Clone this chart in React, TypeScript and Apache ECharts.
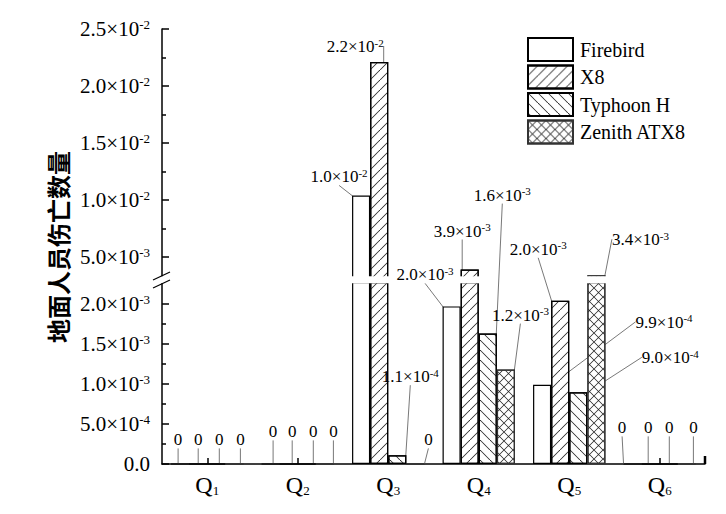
import React, { useEffect, useRef } from 'react';
import * as echarts from 'echarts';

// ---------------- data ----------------
const categories = ['1', '2', '3', '4', '5', '6'];
const seriesNames = ['Firebird', 'X8', 'Typhoon H', 'Zenith ATX8'];
const firebird = [0, 0, 0.0104, 0.00197, 0.00099, 0];
const x8 = [0, 0, 0.0221, 0.0039, 0.00204, 0];
const typhoonH = [0, 0, 0.00011, 0.00163, 0.000896, 0];
const zenithATX8 = [0, 0, 0, 0.00118, 0.0034, 0];
const seriesValues = [firebird, x8, typhoonH, zenithATX8];

const lowerTicks = [0, 0.0005, 0.001, 0.0015, 0.002];
const lowerMinorTicks = [0.00025, 0.00075, 0.00125, 0.00175];
const upperTicks = [0.005, 0.01, 0.015, 0.02, 0.025];
const upperMinorTicks = [0.0075, 0.0125, 0.0175, 0.0225];
const lowerRange = [0, 0.002275];
const upperRange = [0.0032, 0.025];

// ---------------- layout (label offsets in px, per series / category) ----------------
const labelOffsets = [
  [[-2, -15], [2.5, -23], [-22, -9], [-26.5, -22], [122, -53], [-10.5, -27]],
  [[0, -15], [3.5, -23], [-24, -6], [-7.5, -29], [-22, -42], [-2.5, -27]],
  [[3, -15], [6.5, -23], [13, -69], [14.5, -129], [92, -25], [0.5, -27]],
  [[6, -15], [8.5, -23], [13, -15], [14.5, -45], [44, -26], [6.5, -27]],
];
// white gap strips of the axis break (x ranges in px)
const breakStrips = [[157, 393], [456, 483], [582, 706]];

const SERIF = 'Liberation Serif, Times New Roman, serif';

const decals: any[] = [
  null,
  {
    symbol: 'path://M0,9.4L9.4,0L10,0L10,0.6L0.6,10L0,10Z',
    dashArrayX: [10, 0], dashArrayY: [10, 0], symbolSize: 1, color: '#222',
  },
  {
    symbol: 'path://M0,0L0.6,0L10,9.4L10,10L9.4,10L0,0.6Z',
    dashArrayX: [10, 0], dashArrayY: [10, 0], symbolSize: 1, color: '#222',
  },
  {
    symbol: 'path://M0,0L0.6,0L10,9.4L10,10L9.4,10L0,0.6ZM10,0L10,0.6L0.6,10L0,10L0,9.4L9.4,0Z',
    dashArrayX: [9, 0], dashArrayY: [9, 0], symbolSize: 1, color: '#222',
  },
];
const borderColors = ['#000', '#000', '#000', '#333'];

function sci(v: number): [string, string] | null {
  if (!v) return null;
  let e = Math.floor(Math.log10(v) + 1e-9);
  let ms = (v / Math.pow(10, e)).toFixed(1);
  if (ms === '10.0') { e += 1; ms = '1.0'; }
  return [ms, String(e)];
}
const axisFmt = (v: number) => {
  const p = sci(v);
  return p ? `{m|${p[0]}×10}{e|${p[1]}}` : '{m|0.0}';
};
const dataFmt = (params: any) => {
  const v = typeof params.value === 'number' ? params.value : 0;
  const p = sci(v);
  return p ? `{m|${p[0]}×10}{e|${p[1]}}` : '{m|0}';
};

const axisRich = {
  m: { fontSize: 21, fontFamily: SERIF, color: '#000' },
  e: { fontSize: 13, fontFamily: SERIF, color: '#000', padding: [0, 0, 9, 0] },
};
const dataRich = {
  m: { fontSize: 17, fontFamily: SERIF, color: '#000' },
  e: { fontSize: 11, fontFamily: SERIF, color: '#000', padding: [0, 0, 8, 0] },
};

export default function App() {
  const ref = useRef<HTMLDivElement>(null);
  useEffect(() => {
    document.body.style.margin = '0';
    if (!ref.current) return;
    const chart = echarts.init(ref.current, undefined, { renderer: 'svg' });

    const makeSeries = (vals: number[], i: number, upper: boolean) => ({
      type: 'bar',
      name: seriesNames[i],
      xAxisIndex: upper ? 0 : 1,
      yAxisIndex: upper ? 0 : 2,
      barGap: '0%',
      barCategoryGap: '20%',
      clip: true,
      z: 2,
      itemStyle: { color: '#fff', borderColor: borderColors[i], borderWidth: 1.2, decal: decals[i] || 'none' },
      label: { show: true, position: 'top', distance: 0, formatter: dataFmt, rich: dataRich, fontFamily: SERIF },
      labelLine: { show: true, lineStyle: { color: '#555', width: 0.8 } },
      labelLayout: (p: any) => ({ dx: labelOffsets[i][p.dataIndex][0], dy: labelOffsets[i][p.dataIndex][1] }),
      data: upper
        ? vals.map((v) => (v >= upperRange[0] ? { value: v } : { value: '-', label: { show: false } }))
        : vals.map((v) => (v <= lowerRange[1] ? { value: v } : { value: lowerRange[1], label: { show: false } })),
    });

    const series: any[] = [
      ...seriesValues.map((vals, i) => makeSeries(vals, i, true)),
      ...seriesValues.map((vals, i) => makeSeries(vals, i, false)),
    ];

    const tickLine = { color: '#000', width: 1.5 };
    const option: any = {
      animation: false,
      backgroundColor: '#fff',
      textStyle: { fontFamily: SERIF },
      grid: [
        { left: 162, top: 29, width: 543, height: 248.5 },
        { left: 162, top: 282, width: 543, height: 182 },
      ],
      xAxis: [
        { type: 'category', gridIndex: 0, data: categories, show: false },
        {
          type: 'category', gridIndex: 1, data: categories,
          axisLine: { lineStyle: { color: '#000', width: 1.5 } },
          axisTick: { show: true, alignWithLabel: true, inside: true, length: 6, interval: 0, lineStyle: tickLine },
          axisLabel: {
            interval: 0, margin: 8, fontFamily: SERIF,
            formatter: (v: string) => `{q|Q}{s|${v}}`,
            rich: {
              q: { fontSize: 24, fontFamily: SERIF, color: '#000' },
              s: { fontSize: 13, fontFamily: SERIF, color: '#000', padding: [12, 0, 0, 0] },
            },
          },
        },
      ],
      yAxis: [
        {
          type: 'value', gridIndex: 0, min: upperRange[0], max: upperRange[1], position: 'left',
          axisLine: { show: true, lineStyle: { color: '#000', width: 1.5 } },
          axisTick: { show: true, inside: true, length: 7, customValues: upperTicks, lineStyle: tickLine },
          axisLabel: { show: true, customValues: upperTicks, margin: 12, formatter: axisFmt, rich: axisRich, fontFamily: SERIF },
          splitLine: { show: false },
        },
        {
          type: 'value', gridIndex: 0, min: upperRange[0], max: upperRange[1], position: 'left',
          axisLine: { show: false },
          axisTick: { show: true, inside: true, length: 4, customValues: upperMinorTicks, lineStyle: tickLine },
          axisLabel: { show: false },
          splitLine: { show: false },
        },
        {
          type: 'value', gridIndex: 1, min: lowerRange[0], max: lowerRange[1], position: 'left',
          axisLine: { show: true, lineStyle: { color: '#000', width: 1.5 } },
          axisTick: { show: true, inside: true, length: 7, customValues: lowerTicks, lineStyle: tickLine },
          axisLabel: { show: true, customValues: lowerTicks, margin: 12, formatter: axisFmt, rich: axisRich, fontFamily: SERIF },
          splitLine: { show: false },
        },
        {
          type: 'value', gridIndex: 1, min: lowerRange[0], max: lowerRange[1], position: 'left',
          axisLine: { show: false },
          axisTick: { show: true, inside: true, length: 4, customValues: lowerMinorTicks, lineStyle: tickLine },
          axisLabel: { show: false },
          splitLine: { show: false },
        },
      ],
      legend: {
        data: seriesNames,
        orient: 'vertical',
        left: 527,
        top: 37,
        padding: 0,
        itemWidth: 45,
        itemHeight: 23,
        itemGap: 2.5,
        icon: 'rect',
        align: 'left',
        textStyle: { fontSize: 20, fontFamily: SERIF, color: '#000', padding: [0, 0, 0, 2] },
      },
      graphic: [
        {
          type: 'text', x: 57, y: 247, rotation: Math.PI / 2,
          style: { text: '地面人员伤亡数量', font: 'bold 24px Noto Sans CJK SC', fill: '#000', align: 'center', verticalAlign: 'middle' },
        },
        ...breakStrips.map(([a, b]) => ({
          type: 'rect', z: 3, z2: 0, shape: { x: a, y: 276.3, width: b - a, height: 7 }, style: { fill: '#fff' },
        })),
        { type: 'line', z: 10, shape: { x1: 153, y1: 280, x2: 170, y2: 272 }, style: { stroke: '#000', lineWidth: 1.3 } },
        { type: 'line', z: 10, shape: { x1: 153, y1: 288, x2: 170, y2: 280 }, style: { stroke: '#000', lineWidth: 1.3 } },
        { type: 'line', z: 10, shape: { x1: 705, y1: 464, x2: 705, y2: 456 }, style: { stroke: '#000', lineWidth: 2.5 } },
      ],
      series,
    };
    chart.setOption(option);
    return () => chart.dispose();
  }, []);
  return <div ref={ref} style={{ width: 726, height: 514 }} />;
}
